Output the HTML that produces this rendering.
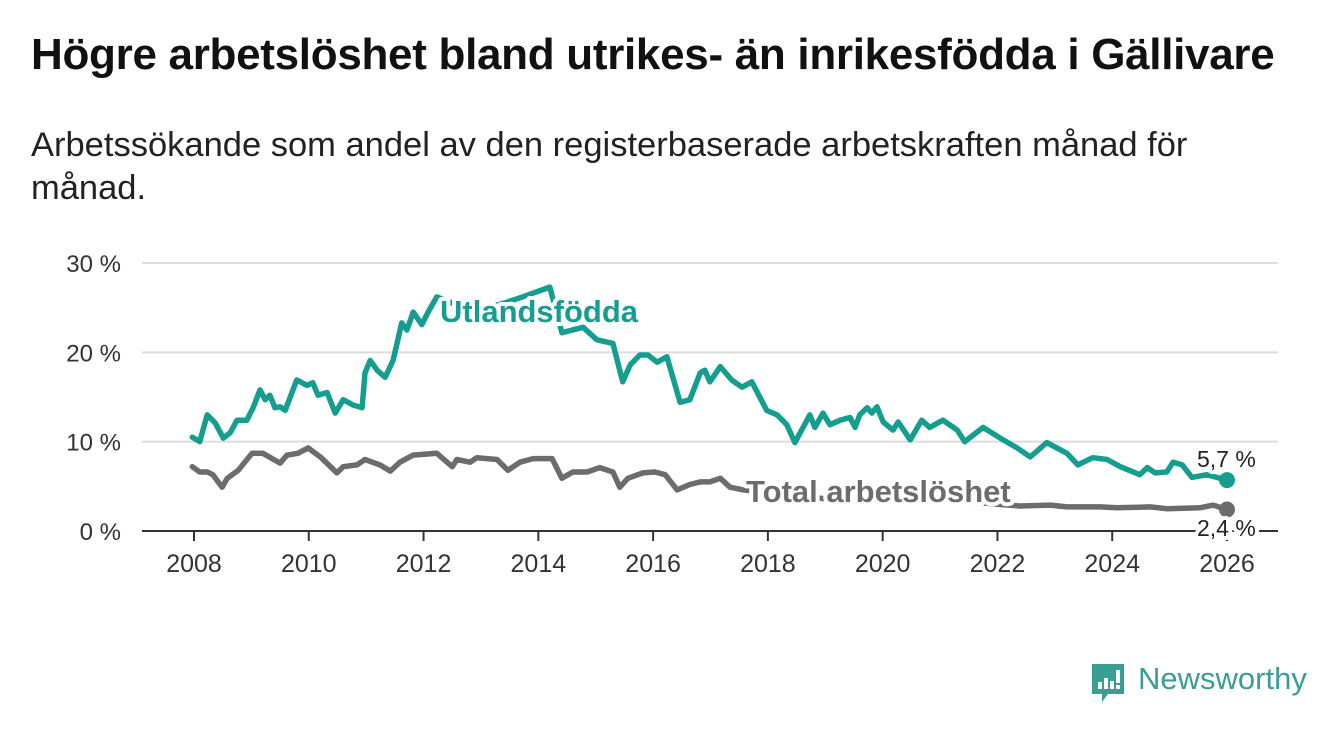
<!DOCTYPE html>
<html><head><meta charset="utf-8">
<style>
body{margin:0;width:1340px;height:734px;background:#fff;overflow:hidden;font-family:"Liberation Sans",sans-serif;}
#title{position:absolute;left:31px;top:30px;font-size:44px;font-weight:bold;color:#111;white-space:nowrap;letter-spacing:-0.3px}
#sub{position:absolute;left:31px;top:124px;font-size:34.5px;line-height:43px;color:#222;white-space:nowrap}
svg{position:absolute;left:0;top:0}
</style></head><body>
<div id="title">Högre arbetslöshet bland utrikes- än inrikesfödda i Gällivare</div>
<div id="sub">Arbetssökande som andel av den registerbaserade arbetskraften månad för<br>månad.</div>
<svg id="chart" width="1340" height="734"></svg>
<script>
const yTicks=[0,10,20,30];
const xTicks=[2008,2010,2012,2014,2016,2018,2020,2022,2024,2026];
const utlYears=[2007.97,2008.10,2008.23,2008.37,2008.51,2008.63,2008.75,2008.92,2009.03,2009.15,2009.24,2009.32,2009.41,2009.50,2009.59,2009.79,2009.97,2010.07,2010.16,2010.32,2010.46,2010.60,2010.77,2010.93,2010.98,2011.07,2011.19,2011.33,2011.47,2011.62,2011.71,2011.82,2011.97,2012.08,2012.23,2012.5,2012.8,2013.1,2013.4,2013.68,2014.20,2014.41,2014.78,2015.02,2015.30,2015.47,2015.60,2015.77,2015.91,2016.07,2016.24,2016.47,2016.64,2016.82,2016.90,2016.99,2017.17,2017.37,2017.55,2017.72,2017.98,2018.16,2018.33,2018.47,2018.73,2018.82,2018.96,2019.08,2019.26,2019.43,2019.52,2019.60,2019.73,2019.81,2019.90,2020.01,2020.18,2020.27,2020.48,2020.68,2020.82,2021.05,2021.30,2021.43,2021.75,2022.10,2022.34,2022.57,2022.86,2023.21,2023.40,2023.66,2023.91,2024.14,2024.48,2024.61,2024.75,2024.95,2025.06,2025.22,2025.39,2025.65,2026.00];
const utlValues=[10.5,10.0,13.0,12.1,10.4,11.0,12.4,12.4,13.8,15.8,14.7,15.2,13.8,13.9,13.5,16.9,16.3,16.6,15.2,15.5,13.2,14.7,14.1,13.8,17.7,19.1,18.0,17.2,19.1,23.3,22.5,24.5,23.1,24.5,26.2,25.5,24.0,25.0,25.5,26.1,27.3,22.2,22.8,21.4,21.0,16.7,18.6,19.7,19.7,18.9,19.5,14.4,14.7,17.7,18.0,16.7,18.4,16.9,16.1,16.7,13.5,13.0,11.9,9.9,13.0,11.6,13.2,11.9,12.4,12.7,11.6,13.0,13.8,13.2,13.9,12.2,11.3,12.2,10.2,12.4,11.6,12.4,11.3,10.0,11.6,10.2,9.3,8.3,9.9,8.7,7.4,8.2,8.0,7.2,6.3,7.1,6.5,6.6,7.7,7.4,6.0,6.3,5.7];
const totYears=[2007.97,2008.10,2008.23,2008.33,2008.49,2008.58,2008.77,2009.01,2009.20,2009.50,2009.62,2009.81,2009.99,2010.20,2010.49,2010.60,2010.84,2010.98,2011.24,2011.42,2011.59,2011.82,2012.23,2012.50,2012.58,2012.81,2012.93,2013.28,2013.47,2013.68,2013.91,2014.24,2014.41,2014.60,2014.85,2015.07,2015.30,2015.42,2015.56,2015.82,2016.03,2016.21,2016.42,2016.64,2016.82,2016.99,2017.17,2017.34,2017.57,2018.0,2018.5,2019.0,2019.5,2020.2,2020.6,2021.0,2021.5,2022.0,2022.39,2022.92,2023.21,2023.79,2024.08,2024.66,2024.95,2025.53,2025.76,2026.00];
const totValues=[7.2,6.6,6.6,6.3,4.9,5.9,6.8,8.7,8.7,7.6,8.5,8.7,9.3,8.3,6.5,7.2,7.4,8.0,7.4,6.7,7.7,8.5,8.7,7.2,8.0,7.7,8.2,8.0,6.8,7.7,8.1,8.1,5.9,6.6,6.6,7.1,6.6,4.9,5.9,6.5,6.6,6.3,4.6,5.2,5.5,5.5,5.9,4.9,4.6,4.3,4.0,3.6,3.7,4.5,4.2,3.8,3.3,3.0,2.8,2.9,2.7,2.7,2.6,2.7,2.5,2.6,2.9,2.4];

const NS="http://www.w3.org/2000/svg";
const svg=document.getElementById('chart');
const X=y=>194+(y-2008)*(1227-194)/18;
const Y=v=>531-v*(531-263)/30;
function mk(tag,attrs,txt){const e=document.createElementNS(NS,tag);for(const k in attrs)e.setAttribute(k,attrs[k]);if(txt!==undefined)e.textContent=txt;svg.appendChild(e);return e;}
yTicks.forEach(t=>{
  if(t>0){const g=mk('line',{x1:142,x2:1278,y1:Y(t),y2:Y(t),stroke:'#dcdcdc','stroke-width':2});
  
  }
  const l=mk('text',{x:121,y:Y(t)+9,'text-anchor':'end','font-size':24,fill:'#333'},t+' %');
  
  
});
const ax=mk('line',{x1:142,x2:1278,y1:531,y2:531,stroke:'#333','stroke-width':2});


xTicks.forEach(t=>{
  const tk=mk('line',{x1:X(t),x2:X(t),y1:531,y2:541,stroke:'#333','stroke-width':2});
  
  
  const l=mk('text',{x:X(t),y:572,'text-anchor':'middle','font-size':25,fill:'#333'},t);
  
  
});
function line(ys,vs,color,name){
  const d=ys.map((y,i)=>(i?'L':'M')+X(y).toFixed(1)+','+Y(vs[i]).toFixed(1)).join('');
  const p=mk('path',{d:d,fill:'none',stroke:color,'stroke-width':5.5,'stroke-linejoin':'round','stroke-linecap':'round'});
  
  
  const c=mk('circle',{cx:X(ys[ys.length-1]),cy:Y(vs[vs.length-1]),r:8,fill:color});
  
  
}
line(totYears,totValues,'#6c6b70','total-line');
line(utlYears,utlValues,'#159e8f','utlandsfodda-line');
function lab(x,y,txt,color,size,weight,name){
  const t=mk('text',{x:x,y:y,'font-size':size,'font-weight':weight,fill:color,stroke:'#fff','stroke-width':8,'paint-order':'stroke','stroke-linejoin':'round'},txt);
  
  
}
lab(440,322,'Utlandsfödda','#159e8f',31,'bold','utlandsfodda-label');
lab(746,502,'Total arbetslöshet','#6c6b70',31,'bold','total-label');
lab(1197,467,'5,7 %','#222',23,'normal','utlandsfodda-end-value');
lab(1197,536,'2,4 %','#222',23,'normal','total-end-value');
</script>
<div style="position:absolute;left:1090px;top:662px;display:flex;align-items:center">
 <svg width="36" height="42" viewBox="0 0 36 42" style="position:static">
  <path d="M2 2h32v30H18l-6 8v-8H2z" fill="#3a9e93"/>
  <rect x="8" y="20" width="4" height="7" fill="#fff"/><rect x="14" y="16" width="4" height="11" fill="#fff"/><rect x="20" y="19" width="4" height="8" fill="#fff"/><rect x="26" y="8" width="4" height="13" fill="#fff"/><rect x="26" y="23" width="4" height="4" fill="#fff"/>
 </svg>
 <span style="margin-left:12px;font-size:31px;color:#3a9e93;font-weight:500;margin-top:-8px">Newsworthy</span>
</div>
</body></html>
